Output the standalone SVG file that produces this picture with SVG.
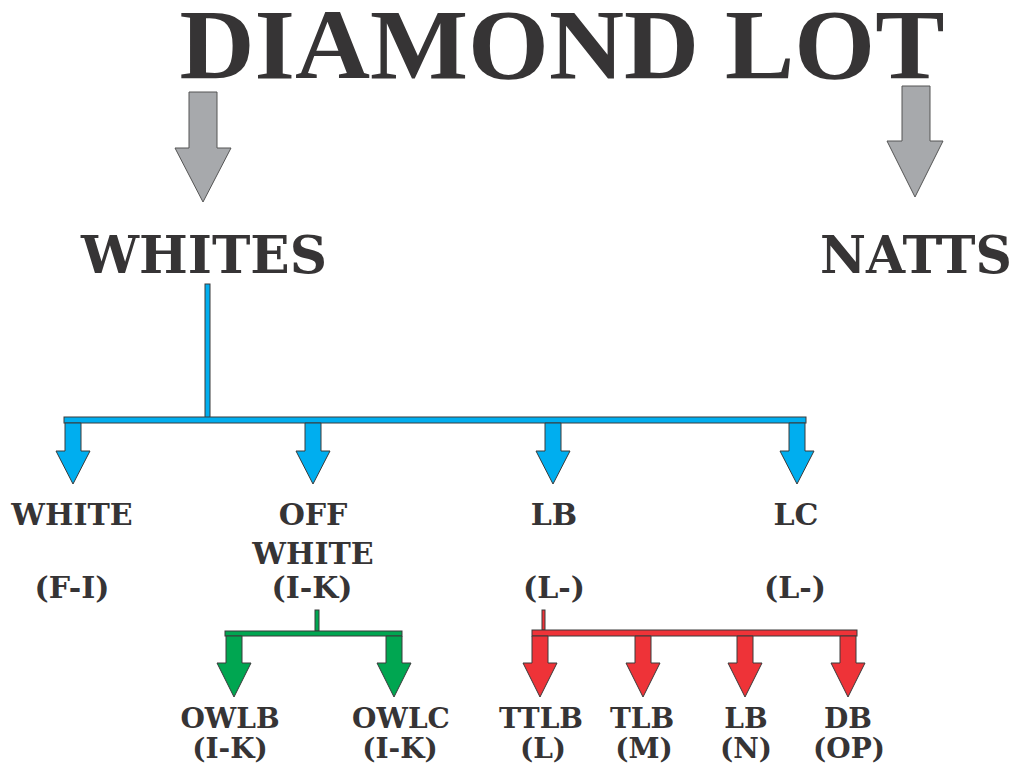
<svg xmlns="http://www.w3.org/2000/svg" width="1018" height="773" viewBox="0 0 1018 773">
<style>
text{font-family:"DejaVu Serif","Liberation Serif",serif;font-weight:bold;fill:#363435;text-anchor:middle}
.title{font-family:"Liberation Serif","DejaVu Serif",serif;font-size:100px}
.big{font-size:52px}
.mid{font-size:30px}
.sm{font-size:28px}
.gray{fill:#a7a9ac;stroke:#555;stroke-width:1}
.blue{fill:#00aeef;stroke:#3a3a3a;stroke-width:1}
.green{fill:#00a651;stroke:#3a3a3a;stroke-width:1}
.red{fill:#ee3338;stroke:#3a3a3a;stroke-width:1}
</style>
<rect width="1018" height="773" fill="#fff"/>
<g id="title"><text class="title" x="562" y="78" textLength="765" lengthAdjust="spacingAndGlyphs">DIAMOND LOT</text></g>
<g id="connectors">
<polygon class="gray" points="189,92 217,92 217,148 231,148 203,202 175,148 189,148"/>
<polygon class="gray" points="902,86 930,86 930,141 943,141 915,197 887,141 902,141"/>
<rect class="blue" x="205" y="284" width="5" height="134"/>
<rect class="blue" x="64" y="417" width="742" height="6"/>
<polygon class="blue" points="65,423 81,423 81,451 90,451 73,484 56,451 65,451"/>
<polygon class="blue" points="305,423 321,423 321,451 330,451 313,484 296,451 305,451"/>
<polygon class="blue" points="545,423 561,423 561,451 570,451 553,484 536,451 545,451"/>
<polygon class="blue" points="789,423 805,423 805,451 814,451 797,484 780,451 789,451"/>
<rect class="green" x="315" y="610" width="4" height="21"/>
<rect class="green" x="225" y="631" width="177" height="5"/>
<polygon class="green" points="226,636 242,636 242,663 251,663 234,697 217,663 226,663"/>
<polygon class="green" points="386,636 402,636 402,663 411,663 394,697 377,663 386,663"/>
<rect class="red" x="542" y="610" width="3" height="20"/>
<rect class="red" x="532" y="630" width="325" height="6"/>
<polygon class="red" points="532,636 548,636 548,663 557,663 540,697 523,663 532,663"/>
<polygon class="red" points="635,636 651,636 651,663 660,663 643,697 626,663 635,663"/>
<polygon class="red" points="737,636 753,636 753,663 762,663 745,697 728,663 737,663"/>
<polygon class="red" points="840,636 856,636 856,663 865,663 848,697 831,663 840,663"/>
</g>
<g id="whites"><text class="big" x="204" y="273" textLength="246" lengthAdjust="spacingAndGlyphs">WHITES</text></g>
<g id="natts"><text class="big" x="916" y="273" textLength="192" lengthAdjust="spacingAndGlyphs">NATTS</text></g>
<g id="white"><text class="mid" x="72" y="525">WHITE</text><text class="mid" x="72" y="598">(F-I)</text></g>
<g id="offwhite"><text class="mid" x="313" y="525">OFF</text><text class="mid" x="313" y="564">WHITE</text><text class="mid" x="312" y="598">(I-K)</text></g>
<g id="lb"><text class="mid" x="554" y="525">LB</text><text class="mid" x="554" y="598">(L-)</text></g>
<g id="lc"><text class="mid" x="796" y="525">LC</text><text class="mid" x="795" y="598">(L-)</text></g>
<g id="owlb"><text class="sm" x="230" y="728">OWLB</text><text class="sm" x="230" y="758">(I-K)</text></g>
<g id="owlc"><text class="sm" x="401" y="728">OWLC</text><text class="sm" x="400" y="758">(I-K)</text></g>
<g id="ttlb"><text class="sm" x="541" y="728">TTLB</text><text class="sm" x="543" y="758">(L)</text></g>
<g id="tlb"><text class="sm" x="642" y="728">TLB</text><text class="sm" x="644" y="758">(M)</text></g>
<g id="lb2"><text class="sm" x="746" y="728">LB</text><text class="sm" x="746" y="758">(N)</text></g>
<g id="db"><text class="sm" x="848" y="728">DB</text><text class="sm" x="849" y="758">(OP)</text></g>
</svg>
